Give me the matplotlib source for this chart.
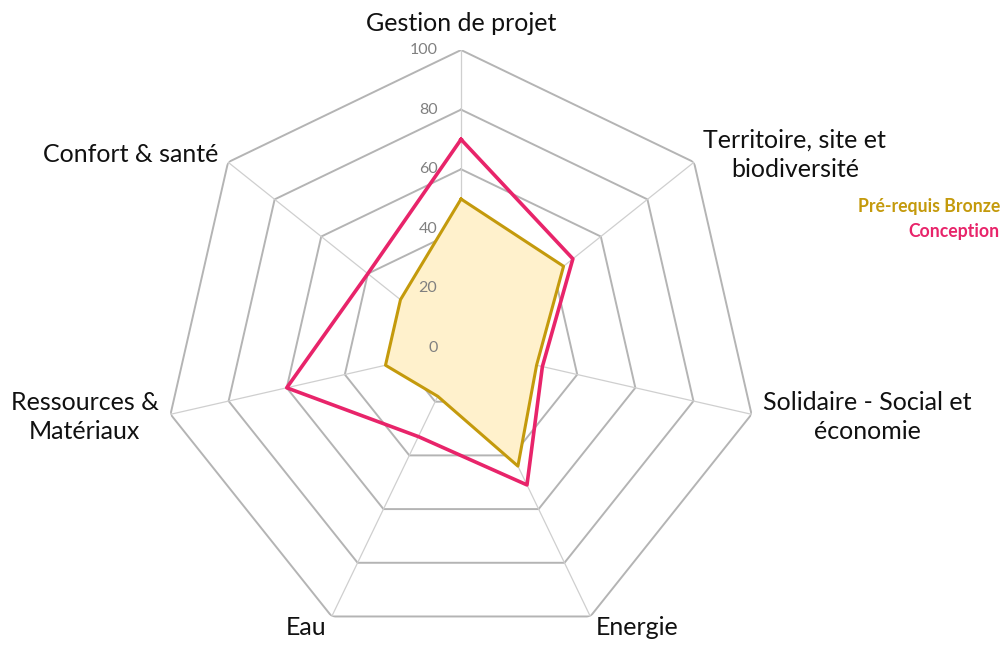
"""Radar : Pré-requis Bronze vs Conception"""
import numpy as np
import matplotlib.pyplot as plt

plt.rcParams["font.family"] = ["Lato", "DejaVu Sans"]

categories = [
    "Gestion de projet",
    "Territoire, site et\nbiodiversité",
    "Solidaire - Social et\néconomie",
    "Energie",
    "Eau",
    "Ressources &\nMatériaux",
    "Confort & santé",
]
bronze = [50, 44, 26, 44, 18, 26, 26]
conception = [70, 48, 28, 51, 33, 60, 40]
rings = [0, 20, 40, 60, 80, 100]
series_names = ["Pré-requis Bronze", "Conception"]

GOLD = "#C49A0C"
PINK = "#E8246A"
GRID = "#B4B4B4"
SPOKE = "#CFCFCF"

n = len(categories)
theta = np.linspace(0, 2 * np.pi, n, endpoint=False)
closed = np.append(theta, theta[0])

fig = plt.figure(figsize=(10.04, 6.46), dpi=100)
ax = fig.add_axes([0.1624, 0.0, 0.5936, 0.9226], projection="polar")
ax.set_theta_offset(np.pi / 2)
ax.set_theta_direction(-1)
ax.set_ylim(0, 100)
ax.grid(False)
ax.spines["polar"].set_visible(False)
ax.set_xticks([])
ax.set_yticks([])

# anneaux polygonaux + rayons
for r in rings[1:]:
    ax.plot(closed, [r] * (n + 1), color=GRID, lw=1.4, zorder=1)
for t in theta:
    ax.plot([t, t], [0, 100], color=SPOKE, lw=0.9, zorder=1)

# valeurs de l'échelle
for r in rings:
    ax.annotate(str(r), xy=(0, r), xytext=(-17, 0), textcoords="offset points",
                ha="right", va="center", fontsize=11.5, color="#808080")

# séries
b = bronze + bronze[:1]
c = conception + conception[:1]
ax.fill(closed, b, color="#FFF1CC", zorder=2)
ax.plot(closed, b, color=GOLD, lw=2.2, zorder=3)
ax.plot(closed, c, color=PINK, lw=2.6, zorder=4)

# libellés des axes
aligns = ["center", "left", "left", "left", "right", "right", "right"]
for t, lab, ha in zip(theta, categories, aligns):
    r = 109 if ha == "center" else 104
    ax.text(t, r, lab, ha=ha, va="center", multialignment="center",
            fontsize=18, linespacing=1.3, color="#111111")

# légende
fig.text(0.996, 0.681, series_names[0], ha="right", va="center",
         fontsize=12.7, fontweight="bold", color=GOLD)
fig.text(0.996, 0.641, series_names[1], ha="right", va="center",
         fontsize=12.7, fontweight="bold", color=PINK)

fig.savefig("out.png", dpi=100)
plt.close(fig)
